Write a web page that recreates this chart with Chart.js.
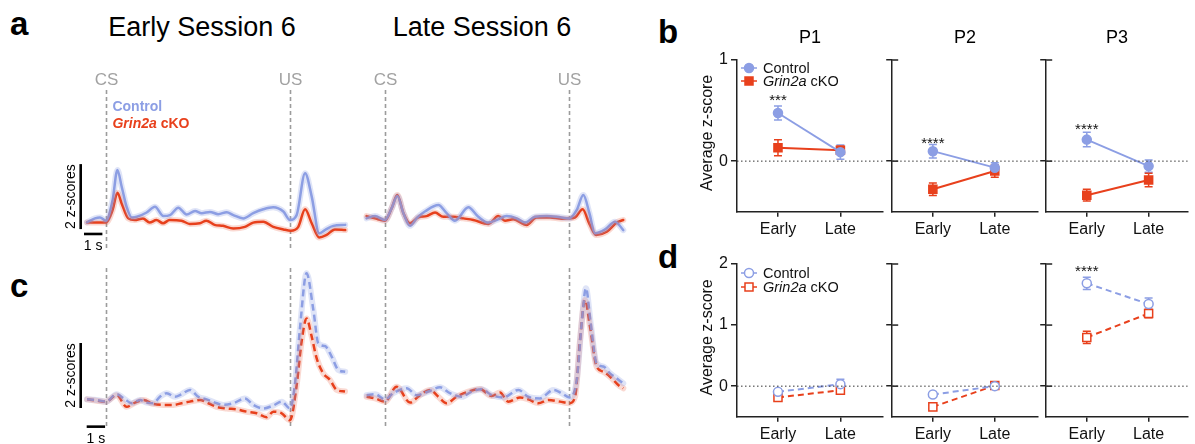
<!DOCTYPE html>
<html><head><meta charset="utf-8"><title>Grin2a figure</title>
<script src="https://cdn.jsdelivr.net/npm/chart.js@4.4.1/dist/chart.umd.min.js"></script>
<style>
html,body{margin:0;padding:0;background:#fff}
body{width:1195px;height:444px;position:relative;overflow:hidden;font-family:"Liberation Sans",Arial,Helvetica,sans-serif;color:#000}
canvas{position:absolute}
.t{position:absolute;white-space:nowrap;line-height:1}
.L{font-size:33px;font-weight:bold}
.T{font-size:27px;transform:translateX(-50%)}
</style></head>
<body>
<div class="t L" style="left:10px;top:7px">a</div>
<div class="t L" style="left:658px;top:15px">b</div>
<div class="t L" style="left:10px;top:269px">c</div>
<div class="t L" style="left:658px;top:240px">d</div>
<div class="t T" style="left:202px;top:14px">Early Session 6</div>
<div class="t T" style="left:482px;top:14px">Late Session 6</div>
<canvas id="aE" width="295" height="195" style="left:55px;top:60px"></canvas>
<canvas id="aL" width="280" height="195" style="left:355px;top:60px"></canvas>
<canvas id="cE" width="295" height="186" style="left:55px;top:258px"></canvas>
<canvas id="cL" width="280" height="186" style="left:355px;top:258px"></canvas>
<canvas id="b0" width="195" height="240" style="left:695px;top:0px"></canvas>
<canvas id="b1" width="160" height="240" style="left:885px;top:0px"></canvas>
<canvas id="b2" width="156" height="240" style="left:1039px;top:0px"></canvas>
<canvas id="d0" width="195" height="204" style="left:695px;top:240px"></canvas>
<canvas id="d1" width="160" height="204" style="left:885px;top:240px"></canvas>
<canvas id="d2" width="156" height="204" style="left:1039px;top:240px"></canvas>
<script>
// ---------------- data ----------------
const eventTimes = [0, 10];            // s, CS and US onsets
const eventNames = ['CS', 'US'];
const groups = ['Early', 'Late'];
const seriesNames = ['Control', 'Grin2a cKO'];
const subpanels = ['P1', 'P2', 'P3'];

// panel a: [time (s), z-score]
const aEarlyCtrl = [[-1.03,-0.07],[-0.6,0.05],[-0.33,0.08],[0,-0.02],[0.36,0.62],[0.62,1.54],[0.85,1.03],[1.12,0.41],[1.4,0.08],[1.67,0.10],[2.21,0.23],[2.66,0.41],[3.12,0.12],[3.48,0.15],[3.93,0.38],[4.38,0.17],[4.84,0.28],[5.2,0.21],[5.65,0.25],[6.1,0.18],[6.56,0.24],[6.92,0.15],[7.46,0.05],[8.0,0.21],[8.55,0.33],[9.09,0.39],[9.64,0.26],[10.0,0.0],[10.36,0.15],[10.82,1.44],[11.18,0.72],[11.59,-0.41],[11.9,-0.31],[12.35,-0.18],[13.0,-0.15]];
const aEarlyKo = [[-1.03,-0.08],[-0.52,-0.08],[0,-0.08],[0.36,0.31],[0.62,0.84],[0.85,0.51],[1.21,0.05],[1.56,0.0],[2.01,0.05],[2.37,-0.08],[2.74,0.0],[3.1,-0.1],[3.46,0.0],[4.1,-0.02],[4.55,-0.12],[5.1,-0.1],[5.45,-0.02],[5.9,-0.15],[6.36,-0.18],[6.92,-0.26],[7.55,-0.21],[8.0,-0.08],[8.55,-0.05],[9.09,-0.21],[9.64,-0.29],[10.04,-0.33],[10.45,-0.21],[10.82,0.33],[11.18,-0.1],[11.59,-0.54],[11.99,-0.46],[12.44,-0.29],[13.0,-0.31]];
const aLateCtrl = [[-1.0,0.05],[-0.54,0.12],[0,0],[0.36,0.36],[0.67,0.74],[1.0,0.21],[1.36,-0.18],[1.76,0.08],[2.17,0.26],[2.9,0.46],[3.35,0.21],[3.8,-0.02],[4.53,0.39],[5.07,0.1],[5.62,-0.08],[6.07,0],[6.61,0.12],[7.16,0.05],[7.61,-0.08],[8.15,0.1],[8.79,0.12],[9.33,0.1],[10.02,0.05],[10.42,0.31],[10.78,0.77],[11.11,0.21],[11.41,-0.41],[11.96,-0.29],[12.5,-0.05],[12.95,-0.31]];
const aLateKo = [[-1.0,0.12],[-0.54,0.05],[0,-0.02],[0.36,0.36],[0.67,0.77],[1.0,0.21],[1.36,-0.1],[1.81,0.08],[2.26,0.12],[2.72,0.23],[3.17,0.1],[3.71,0.1],[4.26,0.05],[4.8,0],[5.62,-0.12],[6.16,0.12],[6.52,-0.02],[6.97,0.02],[7.7,-0.15],[8.24,0.08],[8.97,0.08],[9.6,0.04],[10.05,0.05],[10.33,0.08],[10.74,0.33],[11.11,-0.12],[11.47,-0.46],[12.05,-0.36],[12.59,-0.08],[12.95,0]];

// panel c: [time (s), z-score]
const cEarlyCtrl = [[-1.03,0.02],[-0.52,0],[0,-0.05],[0.58,0.18],[1.03,0.02],[1.4,-0.1],[1.85,0],[2.21,-0.08],[2.57,-0.1],[2.93,0.1],[3.3,0.21],[3.75,0.1],[4.11,0.18],[4.56,0.31],[5.02,0.1],[5.47,0.02],[5.92,-0.08],[6.38,-0.15],[6.92,-0.1],[7.55,0.05],[8.0,-0.15],[8.55,-0.26],[9.09,-0.17],[9.55,-0.05],[10.0,-0.26],[10.27,0.5],[10.54,2.2],[10.9,3.9],[11.27,2.77],[11.54,1.74],[11.9,1.66],[12.27,1.33],[12.63,0.92],[13.0,0.87]];
const cEarlyKo = [[-1.03,0.02],[-0.52,-0.02],[0,-0.05],[0.58,0.15],[1.12,-0.21],[1.58,-0.08],[2.03,0],[2.57,-0.12],[3.12,-0.15],[3.66,-0.15],[4.11,-0.1],[4.56,-0.05],[5.11,0],[5.56,-0.1],[6.01,-0.21],[6.56,-0.26],[7.1,-0.29],[7.65,-0.36],[8.19,-0.41],[8.73,-0.53],[9.09,-0.36],[9.55,-0.41],[10.0,-0.62],[10.36,0.45],[10.63,1.8],[10.9,2.51],[11.18,1.95],[11.45,1.28],[11.81,0.82],[12.17,0.62],[12.54,0.31],[12.99,0.26]];
const cLateCtrl = [[-1.0,0.15],[-0.54,0.18],[0,0.02],[0.45,0.21],[1.18,0.36],[1.72,0.15],[2.36,0.26],[2.99,0.39],[3.53,0.21],[4.17,0.1],[4.71,0.26],[5.25,0.33],[5.8,0.15],[6.43,0.08],[7.25,0.31],[7.79,0.1],[8.42,0.05],[9.15,0.31],[9.6,0.21],[10.02,0.08],[10.42,0.62],[10.69,2.36],[10.92,3.44],[11.18,2.36],[11.5,1.13],[11.87,1.03],[12.23,0.82],[12.59,0.67],[12.95,0.51]];
const cLateKo = [[-1.0,0.1],[-0.54,0.05],[0,-0.05],[0.63,0.41],[1.36,-0.08],[1.9,0.15],[2.45,0.31],[2.9,0.1],[3.35,-0.1],[3.89,0.1],[4.53,0.26],[5.16,0.34],[5.8,0.12],[6.25,0.23],[6.7,-0.05],[7.34,0.08],[7.79,0.02],[8.33,-0.1],[8.88,0],[9.51,-0.05],[10.02,-0.1],[10.33,0.1],[10.6,1.85],[10.87,3.08],[11.14,2.26],[11.5,1.03],[11.87,0.87],[12.32,0.67],[12.68,0.46],[12.95,0.36]];

// panel b: mean / sem per subpanel [Early, Late]
const bCtrlMean = [[0.476,0.089],[0.098,-0.065],[0.213,-0.049]];
const bCtrlSem  = [[0.069,0.07],[0.066,0.05],[0.072,0.06]];
const bKoMean   = [[0.132,0.108],[-0.278,-0.098],[-0.337,-0.187]];
const bKoSem    = [[0.079,0.04],[0.062,0.062],[0.058,0.066]];
const bStars = ['***','****','****'];
const bStarY = [0.63,0.21,0.35];
const bTicks = [0,1];

// panel d
const dCtrlMean = [[-0.093,0.033],[-0.137,0.0],[1.684,1.344]];
const dCtrlSem  = [[0.04,0.08],[0.03,0.04],[0.1,0.1]];
const dKoMean   = [[-0.185,-0.066],[-0.339,0.01],[0.798,1.19]];
const dKoSem    = [[0.03,0.04],[0.03,0.04],[0.1,0.07]];
const dStars = ['','','****'];
const dStarY = [0,0,1.93];
const dTicks = [0,1,2];

// ---------------- drawing ----------------
const BLUE = '#8c9ee4', RED = '#e8401c';
const BLUE_BAND = 'rgba(140,158,228,0.28)', RED_BAND = 'rgba(232,64,28,0.2)';
const FONT = '"Liberation Sans", Arial, Helvetica, sans-serif';
Chart.defaults.font.family = FONT;
const pts = arr => arr.map(([x, y]) => ({x, y}));

const tracePlugin = {
  id: 'trace',
  beforeDatasetsDraw(chart, args, o) {
    const ctx = chart.ctx, xs = chart.scales.x, ys = chart.scales.y;
    ctx.save();
    eventTimes.forEach((t, i) => {
      const px = Math.round(xs.getPixelForValue(t)) + 0.5;
      const top = ys.getPixelForValue(o.evTop);
      ctx.strokeStyle = '#9c9c9c'; ctx.lineWidth = 1.6; ctx.setLineDash([4, 3]);
      ctx.beginPath(); ctx.moveTo(px, top); ctx.lineTo(px, ys.getPixelForValue(o.evBottom)); ctx.stroke();
      ctx.setLineDash([]);
      if (o.evLabels) {
        ctx.fillStyle = '#a2a2a2'; ctx.font = '17px ' + FONT;
        ctx.textAlign = 'center'; ctx.textBaseline = 'alphabetic';
        ctx.fillText(eventNames[i], px, top - 5);
      }
    });
    const b = o.bar;
    if (b) {
      ctx.strokeStyle = '#000'; ctx.lineWidth = 2.6; ctx.setLineDash([]);
      const vx = xs.getPixelForValue(b.vx);
      const y0 = ys.getPixelForValue(b.vy0), y1 = ys.getPixelForValue(b.vy0 + 2);
      ctx.beginPath(); ctx.moveTo(vx, y0); ctx.lineTo(vx, y1); ctx.stroke();
      const hy = ys.getPixelForValue(b.hy);
      const hx0 = xs.getPixelForValue(b.hx0), hx1 = xs.getPixelForValue(b.hx0 + 1);
      ctx.beginPath(); ctx.moveTo(hx0, hy); ctx.lineTo(hx1, hy); ctx.stroke();
      ctx.fillStyle = '#000'; ctx.font = '14px ' + FONT;
      ctx.save(); ctx.translate(vx - 6, (y0 + y1) / 2); ctx.rotate(-Math.PI / 2);
      ctx.textAlign = 'center'; ctx.textBaseline = 'alphabetic'; ctx.fillText('2 z-scores', 0, 0); ctx.restore();
      ctx.textAlign = 'center'; ctx.textBaseline = 'alphabetic';
      ctx.fillText('1 s', (hx0 + hx1) / 2, hy + 16);
    }
    if (o.legend) {
      const lx = xs.getPixelForValue(o.legend.x);
      ctx.textAlign = 'left'; ctx.textBaseline = 'alphabetic';
      ctx.font = 'bold 14px ' + FONT; ctx.fillStyle = BLUE;
      ctx.fillText(seriesNames[0], lx, ys.getPixelForValue(o.legend.y0));
      const y2 = ys.getPixelForValue(o.legend.y1);
      const parts = seriesNames[1].split(' ');
      ctx.fillStyle = RED; ctx.font = 'italic bold 14px ' + FONT;
      ctx.fillText(parts[0], lx, y2);
      const w = ctx.measureText(parts[0]).width;
      ctx.font = 'bold 14px ' + FONT;
      ctx.fillText(' ' + parts[1], lx + w, y2);
    }
    ctx.restore();
  }
};

function traceChart(id, xr, yr, ctrl, ko, dashed, deco) {
  const base = {pointRadius: 0, cubicInterpolationMode: 'monotone', fill: false, borderJoinStyle: 'round'};
  const dash = dashed ? [7, 4] : [];
  const cap = dashed ? 'butt' : 'round';
  new Chart(document.getElementById(id), {
    type: 'line',
    data: {datasets: [
      {...base, data: pts(ctrl), borderColor: BLUE_BAND, borderWidth: 6, borderCapStyle: 'round'},
      {...base, data: pts(ko), borderColor: RED_BAND, borderWidth: 6, borderCapStyle: 'round'},
      {...base, data: pts(ctrl), borderColor: BLUE, borderWidth: 2.5, borderDash: dash, borderCapStyle: cap},
      {...base, data: pts(ko), borderColor: RED, borderWidth: 2.5, borderDash: dash, borderCapStyle: cap}
    ]},
    options: {
      responsive: false, animation: false, events: [],
      layout: {padding: 0},
      scales: {
        x: {type: 'linear', display: false, min: xr[0], max: xr[1]},
        y: {type: 'linear', display: false, min: yr[0], max: yr[1]}
      },
      plugins: {legend: {display: false}, tooltip: {enabled: false}, trace: deco}
    },
    plugins: [tracePlugin]
  });
}

const PXS = 18.4, PXZ = 32.5;
const aY = [(220 - 255) / PXZ, (220 - 60) / PXZ];
const cY = [(400 - 444) / PXZ, (400 - 258) / PXZ];
const eX = [-(106 - 55) / PXS, -(106 - 55) / PXS + 295 / PXS];
const lX = [-(385 - 355) / PXS, -(385 - 355) / PXS + 280 / PXS];

traceChart('aE', eX, aY, aEarlyCtrl, aEarlyKo, false, {
  evTop: 4.0, evBottom: -0.92, evLabels: true,
  bar: {vx: -1.375, vy0: -0.28, hy: -0.43, hx0: -1.196},
  legend: {x: 0.35, y0: 3.35, y1: 2.83}
});
traceChart('aL', lX, aY, aLateCtrl, aLateKo, false, {evTop: 4.0, evBottom: -0.92, evLabels: true});
traceChart('cE', eX, cY, cEarlyCtrl, cEarlyKo, true, {
  evTop: 4.06, evBottom: -0.8, evLabels: false,
  bar: {vx: -1.375, vy0: -0.246, hy: -0.82, hx0: -1.05}
});
traceChart('cL', lX, cY, cLateCtrl, cLateKo, true, {evTop: 4.06, evBottom: -0.8, evLabels: false});

// ---------- panels b and d ----------
const statPlugin = {
  id: 'stat',
  beforeDatasetsDraw(chart, args, o) {
    const ctx = chart.ctx, xs = chart.scales.x, ys = chart.scales.y;
    ctx.save(); ctx.setLineDash([]);
    chart.data.datasets.forEach(ds => {
      if (!ds.errors) return;
      ctx.strokeStyle = ds.borderColor; ctx.lineWidth = 1.5;
      ds.data.forEach((p, j) => {
        const px = xs.getPixelForValue(p.x);
        const lo = ys.getPixelForValue(p.y - ds.errors[j]), hi = ys.getPixelForValue(p.y + ds.errors[j]);
        ctx.beginPath();
        ctx.moveTo(px, lo); ctx.lineTo(px, hi);
        ctx.moveTo(px - 4, lo); ctx.lineTo(px + 4, lo);
        ctx.moveTo(px - 4, hi); ctx.lineTo(px + 4, hi);
        ctx.stroke();
      });
    });
    if (o.crossTicks) {
      ctx.strokeStyle = '#222'; ctx.lineWidth = 1.5;
      ys.ticks.forEach(t => {
        const py = ys.getPixelForValue(t.value);
        ctx.beginPath(); ctx.moveTo(chart.chartArea.left, py); ctx.lineTo(chart.chartArea.left + 6, py); ctx.stroke();
      });
    }
    ctx.restore();
  },
  afterDatasetsDraw(chart, args, o) {
    const ctx = chart.ctx, xs = chart.scales.x, ys = chart.scales.y, ca = chart.chartArea;
    ctx.save();
    if (o.star) {
      ctx.fillStyle = '#111'; ctx.font = '15px ' + FONT; ctx.textAlign = 'center'; ctx.textBaseline = 'alphabetic';
      ctx.fillText(o.star, xs.getPixelForValue(0), ys.getPixelForValue(o.starY) + 8);
    }
    if (o.title) {
      ctx.fillStyle = '#000'; ctx.font = '18px ' + FONT; ctx.textAlign = 'center'; ctx.textBaseline = 'alphabetic';
      ctx.fillText(o.title, (ca.left + ca.right) / 2, ca.top - 17);
    }
    if (o.yTitle) {
      ctx.fillStyle = '#111'; ctx.font = '16px ' + FONT; ctx.textAlign = 'center'; ctx.textBaseline = 'middle';
      ctx.save(); ctx.translate(ca.left - 29, (ca.top + ca.bottom) / 2 - 3); ctx.rotate(-Math.PI / 2);
      ctx.fillText(o.yTitle, 0, 0); ctx.restore();
    }
    if (o.legendY) {
      const mx = ca.left + 12, tx = ca.left + 26;
      [1, 2].forEach((di, i) => {
        const ds = chart.data.datasets[di];
        const my = ca.top + o.legendY[i];
        ctx.strokeStyle = ds.borderColor; ctx.lineWidth = 1.5; ctx.setLineDash([]);
        ctx.beginPath(); ctx.moveTo(mx - 8, my); ctx.lineTo(mx + 8, my); ctx.stroke();
        ctx.fillStyle = ds.pointBackgroundColor; ctx.strokeStyle = ds.pointBorderColor; ctx.lineWidth = ds.pointBorderWidth;
        ctx.beginPath();
        if (ds.pointStyle === 'circle') ctx.arc(mx, my, 4.5, 0, Math.PI * 2);
        else ctx.rect(mx - 4, my - 4, 8, 8);
        ctx.fill(); ctx.stroke();
        ctx.fillStyle = '#111'; ctx.textAlign = 'left'; ctx.textBaseline = 'middle';
        const parts = seriesNames[i].split(' ');
        if (i === 0) { ctx.font = '14.5px ' + FONT; ctx.fillText(seriesNames[0], tx, my + 1); }
        else {
          ctx.font = 'italic 14.5px ' + FONT; ctx.fillText(parts[0], tx, my + 1);
          const w = ctx.measureText(parts[0]).width;
          ctx.font = '14.5px ' + FONT; ctx.fillText(' ' + parts[1], tx + w, my + 1);
        }
      });
    }
    ctx.restore();
  }
};

function statChart(id, k, isB) {
  const cm = (isB ? bCtrlMean : dCtrlMean)[k], cs = (isB ? bCtrlSem : dCtrlSem)[k];
  const km = (isB ? bKoMean : dKoMean)[k], ks = (isB ? bKoSem : dKoSem)[k];
  const ticks = isB ? bTicks : dTicks;
  const cv = document.getElementById(id);
  const yW = k === 0 ? 42 : 6;
  const xH = isB ? 28.3 : 27.3;
  const PXU = 65.5;
  const xmin = -43 / PXU, xmax = xmin + (cv.width - yW) / PXU;
  const open = !isB;
  new Chart(cv, {
    type: 'line',
    data: {datasets: [
      {data: [{x: xmin, y: 0}, {x: xmax, y: 0}], borderColor: '#333', borderWidth: 1, borderDash: [1.5, 2.5], pointRadius: 0},
      {label: seriesNames[0], data: groups.map((g, j) => ({x: j, y: cm[j]})), errors: cs,
       borderColor: BLUE, borderWidth: open ? 2 : 1.8, borderDash: open ? [6, 4] : [],
       pointStyle: 'circle', pointRadius: 4.5, pointBorderWidth: 1.5,
       pointBackgroundColor: open ? '#fff' : BLUE, pointBorderColor: BLUE},
      {label: seriesNames[1], data: groups.map((g, j) => ({x: j, y: km[j]})), errors: ks,
       borderColor: RED, borderWidth: 2, borderDash: open ? [6, 4] : [],
       pointStyle: 'rect', pointRadius: 5.7, pointBorderWidth: 1.5,
       pointBackgroundColor: open ? '#fff' : RED, pointBorderColor: RED}
    ]},
    options: {
      responsive: false, animation: false, events: [],
      layout: {padding: {top: isB ? 60 : 24, left: 0, right: 0, bottom: 0}},
      scales: {
        x: {type: 'linear', min: xmin, max: xmax,
            afterBuildTicks: s => { s.ticks = groups.map((g, j) => ({value: j})); },
            afterFit: s => { s.height = xH; },
            ticks: {callback: v => groups[v], font: {size: 16}, color: '#111', padding: 3, maxRotation: 0, autoSkip: false},
            grid: {drawOnChartArea: false, tickLength: 5, color: '#222', lineWidth: 1.5},
            border: {color: '#222', width: 1.5}},
        y: {type: 'linear', min: -0.5, max: isB ? 1 : 2,
            afterBuildTicks: s => { s.ticks = ticks.map(v => ({value: v})); },
            afterFit: s => { s.width = yW; },
            ticks: {display: k === 0, font: {size: 16}, color: '#111', padding: 3},
            grid: {drawOnChartArea: false, tickLength: 6, color: '#222', lineWidth: 1.5},
            border: {color: '#222', width: 1.5}}
      },
      plugins: {
        legend: {display: false}, tooltip: {enabled: false},
        stat: {
          crossTicks: k > 0,
          star: (isB ? bStars : dStars)[k],
          starY: (isB ? bStarY : dStarY)[k],
          title: isB ? subpanels[k] : '',
          yTitle: k === 0 ? 'Average z-score' : '',
          legendY: k === 0 ? (isB ? [8, 21] : [9, 23]) : null
        }
      }
    },
    plugins: [statPlugin]
  });
}
[0, 1, 2].forEach(k => { statChart('b' + k, k, true); statChart('d' + k, k, false); });
</script>
</body></html>
